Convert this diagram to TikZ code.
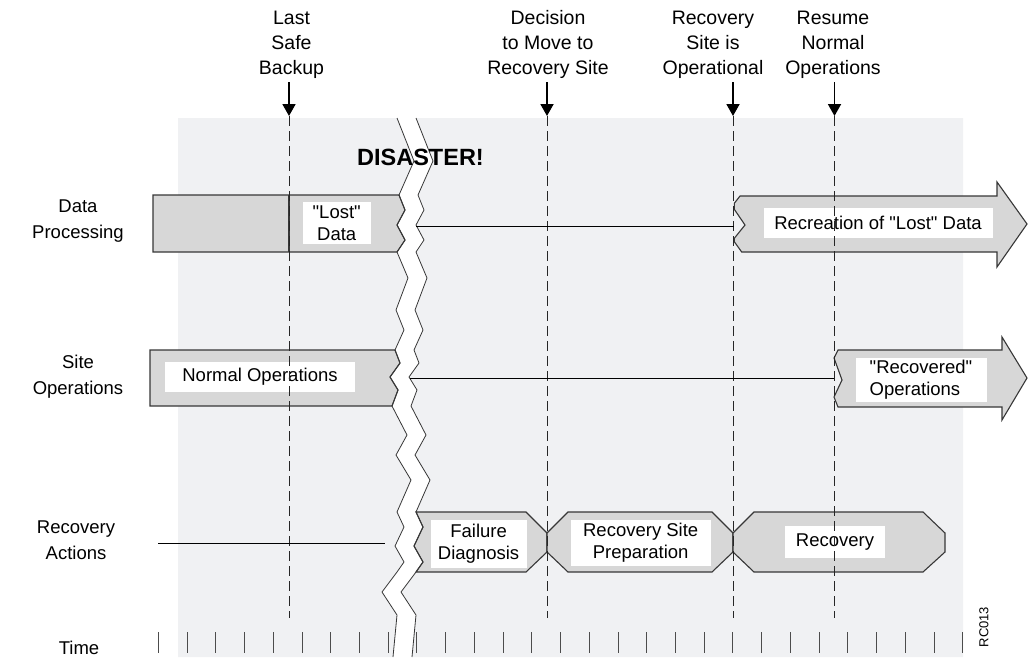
\documentclass[tikz,border=0pt]{standalone}
\usepackage{fontspec}
\setmainfont{Liberation Sans}[Ligatures=TeXOff]
\usetikzlibrary{arrows.meta,positioning}
\definecolor{panelgray}{RGB}{240,241,243}
\definecolor{barfill}{RGB}{215,215,215}
\definecolor{edgegray}{RGB}{55,55,55}
\tikzstyle{bar} = [draw=edgegray, fill=barfill, line width=1.1pt, line join=miter]
\tikzstyle{tag} = [fill=white, inner sep=0pt, align=center, font=\fontsize{18.5}{21.5}\selectfont]
\tikzstyle{rowlabel} = [align=center, inner sep=0pt, font=\fontsize{18.5}{26}\selectfont]
\tikzstyle{eventlabel} = [align=center, inner sep=0pt, font=\fontsize{19.5}{25}\selectfont]
\tikzstyle{milestone} = [draw=black!85, line width=0.9pt, dash pattern=on 10pt off 5pt]
\tikzstyle{marker} = [draw, line width=1.8pt, -{Triangle[width=13pt,length=12pt]}]
\tikzstyle{line} = [draw, line width=0.9pt]
\tikzstyle{crackline} = [draw=edgegray, line width=0.8pt]
\tikzstyle{tick} = [draw=black!70, line width=0.9pt]
% left edge of the crack, the right edge is the same shifted by 19
\def\crackpath{(397,118) -- (414,161) -- (399,195) -- (405,210) -- (397,225) -- (405,240) -- (397,252)
  -- (408,278) -- (396,310) -- (404,330) -- (395,350) -- (400,363) -- (390,377) -- (398,390) -- (392,406)
  -- (407,435) -- (396,455) -- (411,480) -- (397,512) -- (404,527) -- (395,546) -- (404,562) -- (397,572)
  -- (382,592) -- (397,615) -- (393,657)}
\begin{document}
\begin{tikzpicture}[x=1pt,y=-1pt]
    \useasboundingbox (0,0) rectangle (1028,657);

    % Background panel, cut by the crack
    \fill[panelgray] (178,118) -- \crackpath -- (178,657) -- cycle;
    \begin{scope}[xshift=19pt]
        \fill[panelgray] (944,118) -- \crackpath -- (944,657) -- cycle;
    \end{scope}

    % Data Processing
    \path[bar] (153,195) -- (399,195) -- (405,210) -- (397,225) -- (405,240) -- (397,252) -- (153,252) -- cycle;
    \draw[edgegray, line width=1.1pt] (289,195) -- (289,252);
    \path[bar] (740,196) -- (997,196) -- (997,182) -- (1027,224) -- (997,267) -- (997,252) -- (741.7,252)
        -- (734.3,241.7) -- (734.3,238.3) -- (745,225) -- (734.3,209.3) -- (734.3,203.3) -- cycle;

    % Site Operations
    \path[bar] (150,350) -- (395,350) -- (400,363) -- (390,377) -- (398,390) -- (392,406) -- (150,406) -- cycle;
    \path[bar] (838,350) -- (1002,350) -- (1002,337) -- (1027,378) -- (1002,420) -- (1002,407) -- (838,407)
        -- (834,397) -- (842,380) -- (834,358) -- cycle;

    % Recovery Actions
    \path[bar] (416,512) -- (526,512) -- (547,533) -- (547,552) -- (526,572) -- (416,572)
        -- (423,562) -- (414,546) -- (423,527) -- cycle;
    \path[bar] (547,533) -- (568,512) -- (712,512) -- (733,533) -- (733,552) -- (712,572) -- (568,572) -- (547,552) -- cycle;
    \path[bar] (733,533) -- (754,512) -- (923,512) -- (945,533) -- (945,552) -- (923,572) -- (754,572) -- (733,552) -- cycle;

    % Place text boxes
    \node [tag, minimum width=68pt, minimum height=41.6pt]  (lostTag)      at (336.7,223) {"Lost"\\Data};
    \node [tag, minimum width=229pt, minimum height=30.6pt] (recreateTag)  at (878,223)     {Recreation of "Lost" Data};
    \node [tag, minimum width=190pt, minimum height=30pt]   (normalTag)    at (260,376.7)   {Normal Operations};
    \node [tag, align=left, minimum width=131pt, minimum height=44pt] (recoveredTag) at (921,379.5) {"Recovered"\\Operations};
    \node [tag, minimum width=96pt, minimum height=48pt]    (diagTag)      at (478.6,543.7) {Failure\\Diagnosis};
    \node [tag, minimum width=140pt, minimum height=46pt]   (prepTag)      at (640.7,542.8) {Recovery Site\\Preparation};
    \node [tag, minimum width=100pt, minimum height=32pt]   (recoveryTag)  at (835,541.8)   {Recovery};

    % Milestones
    \coordinate (lsbTop) at (289,116);   \coordinate (lsbEnd) at (289,618);
    \coordinate (movTop) at (547,116);   \coordinate (movEnd) at (547,618);
    \coordinate (opsTop) at (733,116);   \coordinate (opsEnd) at (733,618);
    \coordinate (resTop) at (834.5,116); \coordinate (resEnd) at (834.5,618);
    \path [milestone] (lsbTop) -- (lsbEnd);
    \path [milestone] (movTop) -- (movEnd);
    \path [milestone] (opsTop) -- (opsEnd);
    \path [milestone] (resTop) -- (resEnd);

    \node [eventlabel] (lsbLbl) at (291.5,44.5) {Last\\Safe\\Backup};
    \node [eventlabel] (movLbl) at (548,44.5)   {Decision\\to Move to\\Recovery Site};
    \node [eventlabel] (opsLbl) at (713,44.5)   {Recovery\\Site is\\Operational};
    \node [eventlabel] (resLbl) at (833,44.5)   {Resume\\Normal\\Operations};
    \path [marker] (289,82) -- (lsbTop);
    \path [marker] (547,82) -- (movTop);
    \path [marker] (733,82) -- (opsTop);
    \path [marker] (834.5,82) -- (resTop);

    % Crack
    \draw[crackline] \crackpath;
    \begin{scope}[xshift=19pt]
        \draw[crackline] \crackpath;
    \end{scope}

    % Waiting lines
    \coordinate (dpCrack) at (416,226);   \coordinate (dpBack)  at (734.3,226);
    \coordinate (siCrack) at (410,378);   \coordinate (siBack)  at (834,378);
    \coordinate (raStart) at (158,543);   \coordinate (raCrack) at (385,543);
    \path [line] (dpCrack) -- (dpBack);
    \path [line] (siCrack) -- (siBack);
    \path [line] (raStart) -- (raCrack);

    % Rows and time axis
    \node [rowlabel] (dpLbl)   at (78,221.5) {Data\\Processing};
    \node [rowlabel] (siLbl)   at (78,377)   {Site\\Operations};
    \node [rowlabel] (raLbl)   at (76,540.5) {Recovery\\Actions};
    \node [rowlabel] (timeLbl) at (79,648)   {Time};
    \foreach \k in {0,...,28}
        \draw[tick] ({158.3+28.73*\k},632) -- ++(0,21);

    \node [inner sep=0pt, font=\fontsize{23.5}{28}\selectfont\bfseries] (disaster) at (420.5,157) {DISASTER!};
    \node [rotate=90, inner sep=0pt, font=\fontsize{13}{15}\selectfont] (figId) at (984,627) {RC013};
\end{tikzpicture}
\end{document}
